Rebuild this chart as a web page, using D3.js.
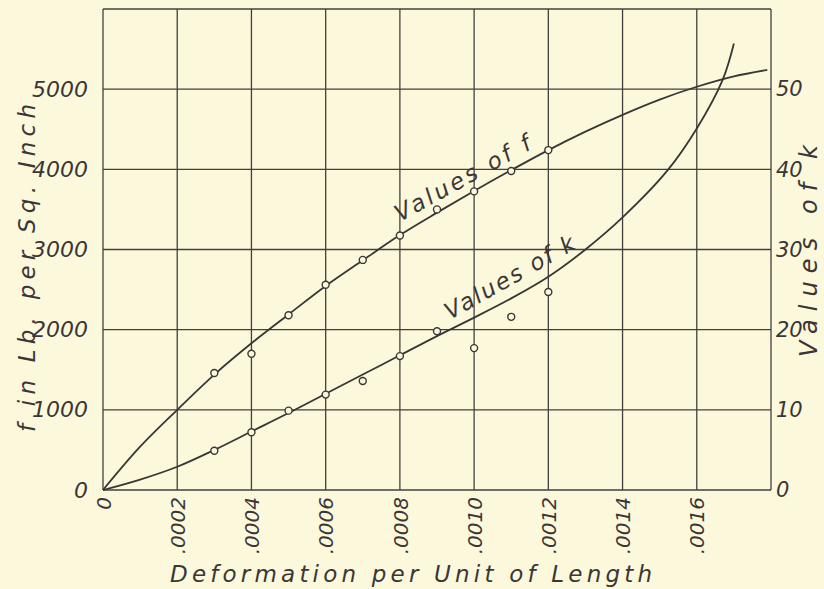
<!DOCTYPE html>
<html>
<head>
<meta charset="utf-8">
<script src="https://cdn.jsdelivr.net/npm/d3@7"></script>
<style>
  html, body { margin: 0; padding: 0; background: #fcf8dc; }
  svg { display: block; }
  text { font-family: "DejaVu Sans", "Open Sans", sans-serif; font-style: oblique; fill: #3b3636; }
</style>
</head>
<body>
<svg id="chart" width="824" height="589"></svg>
<script>
// grid / tick values
var xTicks = [0, 0.0002, 0.0004, 0.0006, 0.0008, 0.0010, 0.0012, 0.0014, 0.0016];
var xTickLabels = ["0", ".0002", ".0004", ".0006", ".0008", ".0010", ".0012", ".0014", ".0016"];
var xGrid = [0, 0.0002, 0.0004, 0.0006, 0.0008, 0.0010, 0.0012, 0.0014, 0.0016, 0.0018];
var fTicks = [0, 1000, 2000, 3000, 4000, 5000];
var fGrid = [0, 1000, 2000, 3000, 4000, 5000, 6000];
var kTicks = [0, 10, 20, 30, 40, 50];

// smooth curve of f (lb per sq inch)
var fCurveX = [0, 0.0001, 0.0002, 0.0003, 0.0004, 0.0005, 0.0006, 0.0007, 0.0008, 0.0009, 0.0010,
               0.0011, 0.0012, 0.0013, 0.0014, 0.0015, 0.0016, 0.0017, 0.00179];
var fCurveY = [0, 540, 1000, 1440, 1830, 2190, 2545, 2865, 3180, 3460, 3730,
               3990, 4240, 4470, 4680, 4870, 5030, 5160, 5240];

// smooth curve of k
var kCurveX = [0, 0.0001, 0.0002, 0.0003, 0.0004, 0.0005, 0.0006, 0.0007, 0.0008, 0.0009, 0.0010,
               0.0011, 0.0012, 0.0013, 0.0014, 0.00152, 0.0016, 0.00167, 0.0017];
var kCurveY = [0, 1.3, 2.9, 5.0, 7.3, 9.6, 12.0, 14.4, 16.8, 19.2, 21.5,
               23.9, 26.6, 30.0, 34.0, 39.8, 45.1, 51.2, 55.7];

// observed points
var fPointX = [0.0003, 0.0005, 0.0006, 0.0007, 0.0008, 0.0009, 0.0010, 0.0011, 0.0012];
var fPointY = [1460, 2180, 2560, 2870, 3175, 3500, 3725, 3980, 4240];
var kPointX = [0.0003, 0.0004, 0.0004, 0.0005, 0.0006, 0.0007, 0.0008, 0.0009, 0.0010, 0.0011, 0.0012];
var kPointY = [4.9, 7.2, 17.0, 9.9, 11.9, 13.6, 16.7, 19.8, 17.7, 21.6, 24.7];

var margin = {top: 9, right: 53, bottom: 99, left: 103};
var width = 824 - margin.left - margin.right;
var height = 589 - margin.top - margin.bottom;
var ink = "#3b3636";
var paper = "#fcf8dc";

var svg = d3.select("#chart");
var g = svg.append("g").attr("transform", `translate(${margin.left},${margin.top})`);

var x = d3.scaleLinear().domain([0, 0.0018]).range([0, width]);
var yF = d3.scaleLinear().domain([0, 6000]).range([height, 0]);
var yK = d3.scaleLinear().domain([0, 60]).range([height, 0]);

// grid
g.selectAll(".vgrid").data(xGrid).enter().append("line")
    .attr("x1", d => x(d)).attr("x2", d => x(d))
    .attr("y1", 0).attr("y2", height)
    .attr("stroke", "#443f3e").attr("stroke-width", 1.3);
g.selectAll(".hgrid").data(fGrid).enter().append("line")
    .attr("x1", 0).attr("x2", width)
    .attr("y1", d => yF(d)).attr("y2", d => yF(d))
    .attr("stroke", "#443f3e").attr("stroke-width", 1.3);

// left axis labels
var left = g.append("g").call(d3.axisLeft(yF).tickValues(fTicks).tickSize(0).tickPadding(15).tickFormat(d3.format("d")));
left.select(".domain").remove();
left.selectAll("text").attr("font-size", 22).attr("font-family", null).attr("fill", ink);

// right axis labels
var right = g.append("g").attr("transform", `translate(${width},0)`)
    .call(d3.axisRight(yK).tickValues(kTicks).tickSize(0).tickPadding(5));
right.select(".domain").remove();
right.selectAll("text").attr("font-size", 21).attr("font-family", null).attr("fill", ink);

// bottom axis labels, rotated
var bottom = g.append("g").attr("transform", `translate(0,${height})`)
    .call(d3.axisBottom(x).tickValues(xTicks).tickSize(0).tickFormat((d, i) => xTickLabels[i]));
bottom.select(".domain").remove();
bottom.selectAll("text")
    .attr("font-size", 20).attr("font-family", null).attr("fill", ink)
    .attr("text-anchor", "end")
    .attr("transform", "translate(0,7) rotate(-90)")
    .attr("x", 0).attr("y", 0).attr("dy", "0.36em");

// curves
var fLine = d3.line().x(d => x(d[0])).y(d => yF(d[1])).curve(d3.curveCatmullRom.alpha(0.5));
var kLine = d3.line().x(d => x(d[0])).y(d => yK(d[1])).curve(d3.curveCatmullRom.alpha(0.5));

g.append("path").datum(d3.zip(fCurveX, fCurveY)).attr("d", fLine)
    .attr("fill", "none").attr("stroke", ink).attr("stroke-width", 1.8);
g.append("path").datum(d3.zip(kCurveX, kCurveY)).attr("d", kLine)
    .attr("fill", "none").attr("stroke", ink).attr("stroke-width", 1.8);

// points
g.selectAll(".fpt").data(d3.zip(fPointX, fPointY)).enter().append("circle")
    .attr("cx", d => x(d[0])).attr("cy", d => yF(d[1])).attr("r", 3.5)
    .attr("fill", paper).attr("stroke", ink).attr("stroke-width", 1.4);
g.selectAll(".kpt").data(d3.zip(kPointX, kPointY)).enter().append("circle")
    .attr("cx", d => x(d[0])).attr("cy", d => yK(d[1])).attr("r", 3.5)
    .attr("fill", paper).attr("stroke", ink).attr("stroke-width", 1.4);

// curve labels
svg.append("text").attr("transform", "translate(400,222) rotate(-29)")
    .attr("font-size", 23).attr("textLength", 152).attr("lengthAdjust", "spacing")
    .text("Values of f");
svg.append("text").attr("transform", "translate(450,320) rotate(-29.5)")
    .attr("font-size", 23).attr("textLength", 146).attr("lengthAdjust", "spacing")
    .text("Values of k");

// axis titles
svg.append("text").attr("x", 411).attr("y", 582).attr("text-anchor", "middle")
    .attr("font-size", 23).attr("textLength", 482).attr("lengthAdjust", "spacing")
    .text("Deformation per Unit of Length");
svg.append("text").attr("transform", "translate(35,268) rotate(-90)").attr("text-anchor", "middle")
    .attr("font-size", 23).attr("textLength", 328).attr("lengthAdjust", "spacing")
    .text("f in Lb. per Sq. Inch");
svg.append("text").attr("transform", "translate(817,251) rotate(-90)").attr("text-anchor", "middle")
    .attr("font-size", 24).attr("textLength", 212).attr("lengthAdjust", "spacing")
    .text("Values of k");
</script>
</body>
</html>
